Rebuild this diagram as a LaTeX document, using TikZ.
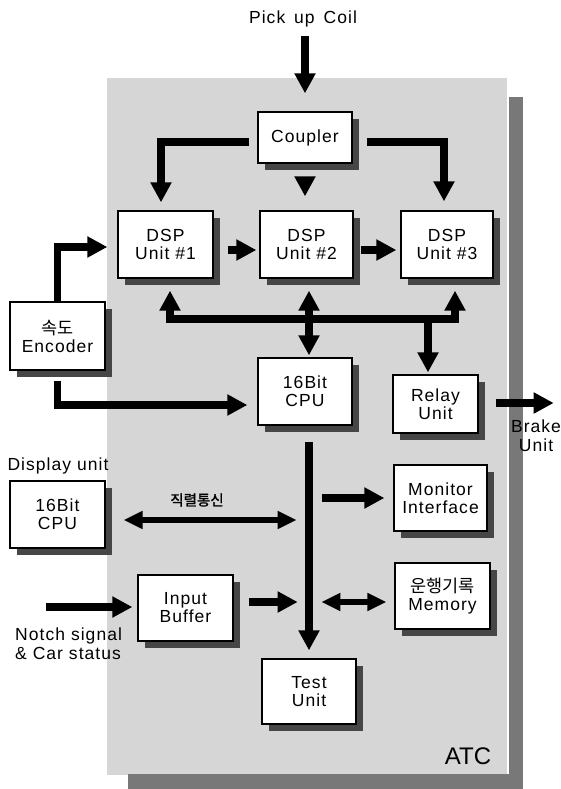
\documentclass[tikz,border=0pt]{standalone}
\usepackage{fontspec}
\setmainfont{Liberation Sans}[LetterSpace=6]
\newfontfamily\plainsans{Liberation Sans}
\newfontfamily\kr{Noto Sans CJK KR}
\newfontfamily\krb{Noto Sans CJK KR}[FakeBold=1.5]
\usetikzlibrary{arrows.meta,calc}
\definecolor{boxshade}{RGB}{70,70,70}
\definecolor{panelgray}{RGB}{214,214,214}
\definecolor{stripgray}{RGB}{120,120,120}
\begin{document}
\begin{tikzpicture}[x=1pt,y=-1pt,
  blk/.style={draw, line width=1.3pt, fill=white, align=center, inner sep=0pt,
    font=\fontsize{17.5}{18}\selectfont},
  lbl/.style={inner sep=0pt, align=center, font=\fontsize{17.5}{19}\selectfont},
  sh/.style={fill=boxshade},
  arr/.style={line width=7.5pt, line join=miter, -{Triangle[length=20pt,width=20pt]}},
  darr/.style={line width=7.5pt, line join=miter, {Triangle[length=20pt,width=20pt]}-{Triangle[length=20pt,width=20pt]}},
  tarr/.style={line width=6pt, {Triangle[length=19pt,width=17pt]}-{Triangle[length=19pt,width=17pt]}}
]
\useasboundingbox (0,0) rectangle (560,789);
% ATC panel
\fill[panelgray] (107,78) rectangle (507,775);
\fill[stripgray] (509,97) rectangle (523,789);
\fill[stripgray] (128,774) rectangle (523,789);

% blocks
\node[blk, minimum width=94pt, minimum height=51pt] (coupler) at (305,137.5) {Coupler};
\node[blk, minimum width=95pt, minimum height=67pt] (dsp1) at (165.5,244.5) {DSP\\Unit \#1};
\node[blk, minimum width=93pt, minimum height=67pt] (dsp2) at (306.5,244.5) {DSP\\Unit \#2};
\node[blk, minimum width=92pt, minimum height=67pt] (dsp3) at (447,244.5) {DSP\\Unit \#3};
\node[blk, minimum width=95pt, minimum height=68pt] (enc) at (57.5,336) {{\kr 속도}\\Encoder};
\node[blk, minimum width=94pt, minimum height=67pt] (cpu) at (305,391.5) {16Bit\\CPU};
\node[blk, minimum width=85pt, minimum height=58pt] (relay) at (435.5,404) {Relay\\Unit};
\node[blk, minimum width=95pt, minimum height=67pt] (disp) at (57.5,514.5) {16Bit\\CPU};
\node[blk, minimum width=93pt, minimum height=66pt] (monitor) at (440.5,498) {Monitor\\Interface};
\node[blk, minimum width=95pt, minimum height=66pt] (input) at (185.5,608) {Input\\Buffer};
\node[blk, minimum width=95pt, minimum height=66pt] (memory) at (442.5,596) {{\kr 운행기록}\\Memory};
\node[blk, minimum width=94pt, minimum height=65pt] (test) at (309,691.5) {Test\\Unit};

% box shadows: right and bottom bands, drawn after the boxes
\fill[sh] (352.7,119) rectangle (359,170);   \fill[sh] (265,163.7) rectangle (359,170);
\fill[sh] (213.7,218) rectangle (220,285);   \fill[sh] (125,278.7) rectangle (220,285);
\fill[sh] (353.7,218) rectangle (360,285);   \fill[sh] (267,278.7) rectangle (360,285);
\fill[sh] (493.7,218) rectangle (500,285);   \fill[sh] (408,278.7) rectangle (500,285);
\fill[sh] (105.7,309) rectangle (112,377);   \fill[sh] (17,370.7) rectangle (112,377);
\fill[sh] (352.7,365) rectangle (359,432);   \fill[sh] (265,425.7) rectangle (359,432);
\fill[sh] (478.7,382) rectangle (485,440);   \fill[sh] (400,433.7) rectangle (485,440);
\fill[sh] (105.7,488) rectangle (112,555);   \fill[sh] (17,548.7) rectangle (112,555);
\fill[sh] (487.7,472) rectangle (494,538);   \fill[sh] (401,531.7) rectangle (494,538);
\fill[sh] (233.7,582) rectangle (240,648);   \fill[sh] (145,641.7) rectangle (240,648);
\fill[sh] (490.7,570) rectangle (497,636);   \fill[sh] (402,629.7) rectangle (497,636);
\fill[sh] (356.7,666) rectangle (363,731);   \fill[sh] (269,724.7) rectangle (363,731);

% labels
\node[lbl] (pick) at (303,19) {Pick\hspace{3pt} up\hspace{3pt} Coil};
\node[lbl] (displbl) at (58,466) {Display unit};
\node[lbl] (brake) at (536,436) {Brake\\Unit};
\node[lbl, align=left, anchor=west] (notch) at (15,644) {Notch signal\\\& Car status};
\node[inner sep=0pt, font=\krb\fontsize{14.5}{16}\selectfont] (serial) at (197,500) {직렬통신};
\node[inner sep=0pt, font=\plainsans\fontsize{24}{26}\selectfont] (atc) at (468,756) {ATC};

% connectors
\draw[arr] ($(pick.south)+(2,9)$) -- ($(coupler.north)+(0,-18)$);
\draw[arr] ($(coupler.west)+(-8,4.5)$) -| ($(dsp1.north)+(-4.5,-8)$);
\draw[arr] ($(coupler.east)+(14,4.5)$) -| ($(dsp3.north)+(-3,-9)$);
\draw[arr] ($(coupler.south)+(0,14)$) -- ($(dsp2.north)+(-1.5,-14)$);
\draw[arr] ($(dsp1.east)+(14,5.5)$) -- ($(dsp2.west)+(-3,5.5)$);
\draw[arr] ($(dsp2.east)+(7,5.5)$) -- ($(dsp3.west)+(-4,5.5)$);
\draw[arr] (enc.north) |- ($(dsp1.west)+(-10,2.5)$);
\draw[arr] ($(enc.south)+(0,10)$) |- ($(cpu.west)+(-10,13.5)$);

% bus
\coordinate (bL) at ($(dsp1.south)+(4.5,12)$);
\coordinate (bR) at ($(dsp3.south)+(8,12)$);
\coordinate (by) at (0,319);
\draw[darr] (bR) -- (bR |- by) -- (bL |- by) -- (bL);
\draw[darr] ($(dsp2.south)+(2.5,12)$) -- ($(cpu.north)+(4,-2)$);
\coordinate (rt) at ($(relay.north)+(-7.5,-2)$);
\draw[arr] (rt |- by) -- (rt);
\draw[arr] ($(relay.east)+(17,-1)$) -- ($(relay.east)+(75,-1)$);

% lower part
\draw[arr] ($(cpu.south)+(4,16)$) -- ($(test.north)+(0,-8)$);
\draw[arr] ($(monitor.west)+(-71,0)$) -- ($(monitor.west)+(-9,0)$);
\draw[tarr] ($(disp.east)+(18,5.5)$) -- ($(disp.east)+(191,5.5)$);
\draw[arr] ($(input.west)+(-91,-1)$) -- ($(input.west)+(-5,-1)$);
\draw[arr] ($(input.east)+(15,-6)$) -- ($(input.east)+(64,-6)$);
\draw[tarr] ($(memory.west)+(-73,6)$) -- ($(memory.west)+(-8,6)$);
\end{tikzpicture}
\end{document}
